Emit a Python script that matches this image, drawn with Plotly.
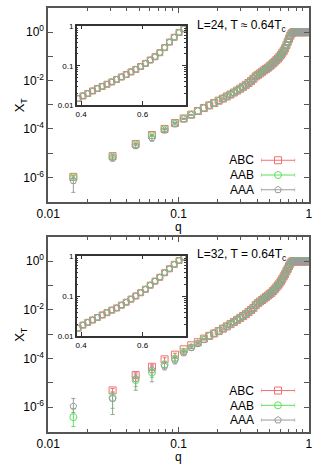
import plotly.graph_objects as go

# q grid (k/64)
Q = [0.0156, 0.0312, 0.0469, 0.0625, 0.0781, 0.0938, 0.1094, 0.125,
     0.1406, 0.1562, 0.1719, 0.1875, 0.2031, 0.2188, 0.2344, 0.25,
     0.2656, 0.2812, 0.2969, 0.3125, 0.3281, 0.3438, 0.3594, 0.375,
     0.3906, 0.4062, 0.4219, 0.4375, 0.4531, 0.4688, 0.4844, 0.5,
     0.5156, 0.5312, 0.5469, 0.5625, 0.5781, 0.5938, 0.6094, 0.625,
     0.6406, 0.6562, 0.6719, 0.6875, 0.7031, 0.7188, 0.7344, 0.75,
     0.7656, 0.7812, 0.7969, 0.8125, 0.8281, 0.8438, 0.8594, 0.875,
     0.8906, 0.9062, 0.9219, 0.9375, 0.9531, 0.9688, 0.9844, 1.0]

# L=24: low-q points per series, then the common part (k=9..64)
L24_ABC_HEAD = [1.05e-6, 7.5e-6, 2.4e-5, 5.6e-5, 1.0e-4, 1.75e-4, 2.7e-4, 3.9e-4]
L24_AAB_HEAD = [1.0e-6, 7.2e-6, 2.3e-5, 5.4e-5, 9.7e-5, 1.7e-4, 2.65e-4, 3.85e-4]
L24_AAA_HEAD = [7.3e-7, 6.2e-6, 2.0e-5, 4.3e-5, 8.8e-5, 1.6e-4, 2.6e-4, 3.8e-4]
L24_ABC_ERR = [1.5e-7, 1.0e-6, 2.0e-6, 5.0e-6, 6.0e-6, 8.0e-6, 8.0e-6, 8.0e-6]
L24_AAB_ERR = [1.5e-7, 1.0e-6, 2.0e-6, 5.0e-6, 6.0e-6, 8.0e-6, 8.0e-6, 8.0e-6]
L24_AAA_ERR_UP = [3.0e-7, 1.5e-6, 4.0e-6, 1.0e-5, 1.0e-5, 1.5e-5, 1.0e-5, 1.0e-5]
L24_AAA_ERR_DN = [4.9e-7, 1.5e-6, 4.0e-6, 1.2e-5, 1.0e-5, 1.5e-5, 1.0e-5, 1.0e-5]
L24_TAIL = [5.5e-4, 7.3e-4, 9.4e-4, 1.18e-3, 1.47e-3, 1.8e-3, 2.2e-3, 2.65e-3,
            3.2e-3, 3.85e-3, 4.6e-3, 5.5e-3, 6.6e-3, 7.9e-3, 9.5e-3, 0.0118,
            0.0148, 0.0172, 0.0198, 0.023, 0.0265, 0.030, 0.034, 0.039,
            0.045, 0.052, 0.060, 0.070, 0.081, 0.096, 0.115, 0.14,
            0.17, 0.215, 0.29, 0.40, 0.53, 0.70, 0.87, 0.96, 0.995,
            1.0, 1.0, 1.0, 1.0, 1.0, 1.0, 1.0, 1.0, 1.0, 1.0, 1.0, 1.0, 1.0, 1.0, 1.0]

# L=32: low-q points per series (k=1..10), then common part (k=11..64)
L32_ABC_HEAD = [None, 4.9e-6, 2.1e-5, 4.6e-5, 9.3e-5, 1.45e-4, 2.4e-4, 3.5e-4, 4.7e-4, 6.6e-4]
L32_AAB_HEAD = [3.9e-7, 2.4e-6, 1.3e-5, 2.7e-5, 5.7e-5, 1.0e-4, 1.9e-4, 2.9e-4, 4.2e-4, 6.2e-4]
L32_AAA_HEAD = [1.1e-6, 2.3e-6, 1.5e-5, 3.4e-5, 4.9e-5, 8.5e-5, 1.7e-4, 2.8e-4, 4.1e-4, 6.0e-4]
L32_ABC_ERR = [0, 1.0e-6, 5.0e-6, 1.0e-5, 1.5e-5, 2.0e-5, 2.0e-5, 2.0e-5, 2.0e-5, 2.0e-5]
L32_AAB_ERR_UP = [5.0e-7, 1.3e-6, 6.0e-6, 1.0e-5, 1.5e-5, 2.0e-5, 2.0e-5, 2.0e-5, 2.0e-5, 2.0e-5]
L32_AAB_ERR_DN = [2.3e-7, 1.5e-6, 6.0e-6, 1.0e-5, 1.5e-5, 2.0e-5, 2.0e-5, 2.0e-5, 2.0e-5, 2.0e-5]
L32_AAA_ERR_UP = [1.2e-6, 2.0e-6, 8.0e-6, 1.5e-5, 2.0e-5, 2.5e-5, 2.5e-5, 2.0e-5, 2.0e-5, 2.0e-5]
L32_AAA_ERR_DN = [5.0e-7, 1.8e-6, 1.0e-5, 2.3e-5, 1.5e-5, 2.5e-5, 2.5e-5, 2.0e-5, 2.0e-5, 2.0e-5]
L32_TAIL = [8.6e-4, 1.08e-3, 1.35e-3, 1.7e-3, 2.1e-3, 2.6e-3, 3.2e-3, 3.9e-3,
            4.7e-3, 5.6e-3, 6.7e-3, 8.2e-3, 9.9e-3, 0.0121, 0.0158, 0.0190,
            0.0222, 0.0255, 0.0295, 0.034, 0.039, 0.045, 0.051, 0.060,
            0.071, 0.085, 0.102, 0.123, 0.15, 0.19, 0.24, 0.30,
            0.39, 0.49, 0.63, 0.79, 0.95, 0.99,
            1.0, 1.0, 1.0, 1.0, 1.0, 1.0, 1.0, 1.0, 1.0, 1.0, 1.0, 1.0, 1.0, 1.0, 1.0, 1.0]

SERIES = ["ABC", "AAB", "AAA"]
COLORS = {"ABC": "#f07070", "AAB": "#5ee05e", "AAA": "#9c9c9c"}
SYMBOLS = {"ABC": "square-open", "AAB": "circle-open", "AAA": "pentagon-open"}

MAIN_XTICKS = [0.01, 0.1, 1]
MAIN_XTEXT = ["0.01", "0.1", "1"]
MAIN_XMINOR = [0.02, 0.03, 0.04, 0.05, 0.06, 0.07, 0.08, 0.09,
               0.2, 0.3, 0.4, 0.5, 0.6, 0.7, 0.8, 0.9]
MAIN_YTICKS = [1e-7, 1e-6, 1e-5, 1e-4, 1e-3, 1e-2, 1e-1, 1, 10]
MAIN_YTEXT = ["", "10<sup>-6</sup>", "", "10<sup>-4</sup>", "", "10<sup>-2</sup>", "", "10<sup>0</sup>", ""]
INSET_XTICKS = [0.4, 0.6]
INSET_XTEXT = ["0.4", "0.6"]
INSET_YTICKS = [0.01, 0.1, 1]
INSET_YTEXT = ["0.01", "0.1", "1"]
INSET_YMINOR = [0.02, 0.03, 0.04, 0.05, 0.06, 0.07, 0.08, 0.09,
                0.2, 0.3, 0.4, 0.5, 0.6, 0.7, 0.8, 0.9]

FONT = "Liberation Sans, Arial, sans-serif"
FRAME = "#555555"
W, H = 332, 468


def px_x(p):
    return p / W


def px_y(p):
    return 1 - p / H


panels = [
    dict(label="L=24, T \u2248 0.64T<sub>c</sub>", top=5, bottom=202, inset=(23, 104), key=(152.5, 197.5),
         data={"ABC": (L24_ABC_HEAD + L24_TAIL, L24_ABC_ERR, L24_ABC_ERR),
               "AAB": (L24_AAB_HEAD + L24_TAIL, L24_AAB_ERR, L24_AAB_ERR),
               "AAA": (L24_AAA_HEAD + L24_TAIL, L24_AAA_ERR_UP, L24_AAA_ERR_DN)}),
    dict(label="L=32, T = 0.64T<sub>c</sub>", top=238, bottom=436, inset=(257, 339), key=(386.8, 431.8),
         data={"ABC": (L32_ABC_HEAD + L32_TAIL, L32_ABC_ERR, L32_ABC_ERR),
               "AAB": (L32_AAB_HEAD + L32_TAIL, L32_AAB_ERR_UP, L32_AAB_ERR_DN),
               "AAA": (L32_AAA_HEAD + L32_TAIL, L32_AAA_ERR_UP, L32_AAA_ERR_DN)}),
]

fig = go.Figure()
layout = dict(
    width=W, height=H, autosize=False, showlegend=False,
    margin=dict(l=0, r=0, t=0, b=0),
    paper_bgcolor="white", plot_bgcolor="white",
    font=dict(family=FONT, size=12, color="black"),
)
annotations = []


def axis_common(**kw):
    d = dict(showline=True, linecolor=FRAME, linewidth=1.5, mirror="ticks",
             ticks="inside", tickcolor=FRAME, showgrid=False, zeroline=False,
             fixedrange=True)
    d.update(kw)
    return d


def sfx(n):
    return "" if n == 1 else str(n)


for i, p in enumerate(panels):
    mx = my = 3 * i + 1
    ix = iy = 3 * i + 2
    kx = ky = 3 * i + 3

    for name in SERIES:
        y, up, dn = p["data"][name]
        for ax_x, ax_y, size in ((mx, my, 7), (ix, iy, 6)):
            fig.add_trace(go.Scatter(
                x=Q, y=y, mode="markers",
                xaxis="x" + sfx(ax_x), yaxis="y" + sfx(ax_y),
                marker=dict(symbol=SYMBOLS[name], size=size, color=COLORS[name],
                            line=dict(width=1, color=COLORS[name])),
                error_y=dict(type="data", symmetric=False, array=up, arrayminus=dn,
                             color=COLORS[name], thickness=1, width=2),
            ))
        # key entry (gnuplot style: label, then errorbar sample)
        fig.add_trace(go.Scatter(
            x=[0.5], y=[name], mode="markers",
            xaxis="x" + sfx(kx), yaxis="y" + sfx(ky),
            marker=dict(symbol=SYMBOLS[name], size=7, color=COLORS[name],
                        line=dict(width=1, color=COLORS[name])),
            error_x=dict(type="data", array=[0.5], color=COLORS[name], thickness=1, width=2),
        ))

    main_dom_y = [px_y(p["bottom"]), px_y(p["top"])]
    layout["xaxis" + sfx(mx)] = axis_common(
        type="log", range=[-2, 0], domain=[px_x(38), px_x(312)], anchor="y" + sfx(my),
        tickvals=MAIN_XTICKS, ticktext=MAIN_XTEXT, ticklen=5,
        minor=dict(tickvals=MAIN_XMINOR, ticklen=3, ticks="inside", tickcolor=FRAME),
        tickfont=dict(size=12),
    )
    layout["yaxis" + sfx(my)] = axis_common(
        type="log", range=[-7, 1], domain=main_dom_y, anchor="x" + sfx(mx),
        tickvals=MAIN_YTICKS, ticktext=MAIN_YTEXT, ticklen=5, tickfont=dict(size=12),
    )
    t, b = p["inset"]
    layout["xaxis" + sfx(ix)] = axis_common(
        range=[0.386, 0.742], domain=[px_x(68), px_x(183)], anchor="y" + sfx(iy),
        tickvals=INSET_XTICKS, ticktext=INSET_XTEXT, ticklen=4,
        linecolor="#333333", tickcolor="#333333", tickfont=dict(size=8),
    )
    layout["yaxis" + sfx(iy)] = axis_common(
        type="log", range=[-2, 0.02], domain=[px_y(b), px_y(t)], anchor="x" + sfx(ix),
        tickvals=INSET_YTICKS, ticktext=INSET_YTEXT, ticklen=4,
        minor=dict(tickvals=INSET_YMINOR, ticklen=2, ticks="inside", tickcolor="#333333"),
        linecolor="#333333", tickcolor="#333333", tickfont=dict(size=8),
    )
    kt, kb = p["key"]
    layout["xaxis" + sfx(kx)] = dict(range=[0, 1], domain=[px_x(261.5), px_x(297.5)],
                                     anchor="y" + sfx(ky), visible=False, fixedrange=True)
    layout["yaxis" + sfx(ky)] = dict(type="category", categoryorder="array",
                                     categoryarray=["AAA", "AAB", "ABC"], range=[-0.5, 2.5],
                                     domain=[px_y(kb), px_y(kt)], anchor="x" + sfx(kx),
                                     showline=False, showgrid=False, zeroline=False, ticks="",
                                     ticklabelstandoff=6, tickfont=dict(size=12), fixedrange=True)

    annotations.append(dict(text=p["label"], xref="paper", yref="paper", x=px_x(192),
                            y=px_y(p["top"] + 18), xanchor="left", yanchor="middle",
                            showarrow=False, font=dict(size=12)))
    annotations.append(dict(text="q", xref="paper", yref="paper", x=px_x(175),
                            y=px_y(p["bottom"] + 26), xanchor="center", yanchor="middle",
                            showarrow=False, font=dict(size=12)))
    annotations.append(dict(text="X<sub>T</sub>", xref="paper", yref="paper", x=px_x(9),
                            y=px_y((p["top"] + p["bottom"]) / 2), xanchor="center", yanchor="middle",
                            textangle=-90, showarrow=False, font=dict(size=13)))

layout["annotations"] = annotations
fig.update_layout(**layout)
# drop the browser's default body margin so the 332x468 figure fills the window
fig.write_html("out.html", config={"displayModeBar": False},
               post_script="document.body.style.margin='0';")
